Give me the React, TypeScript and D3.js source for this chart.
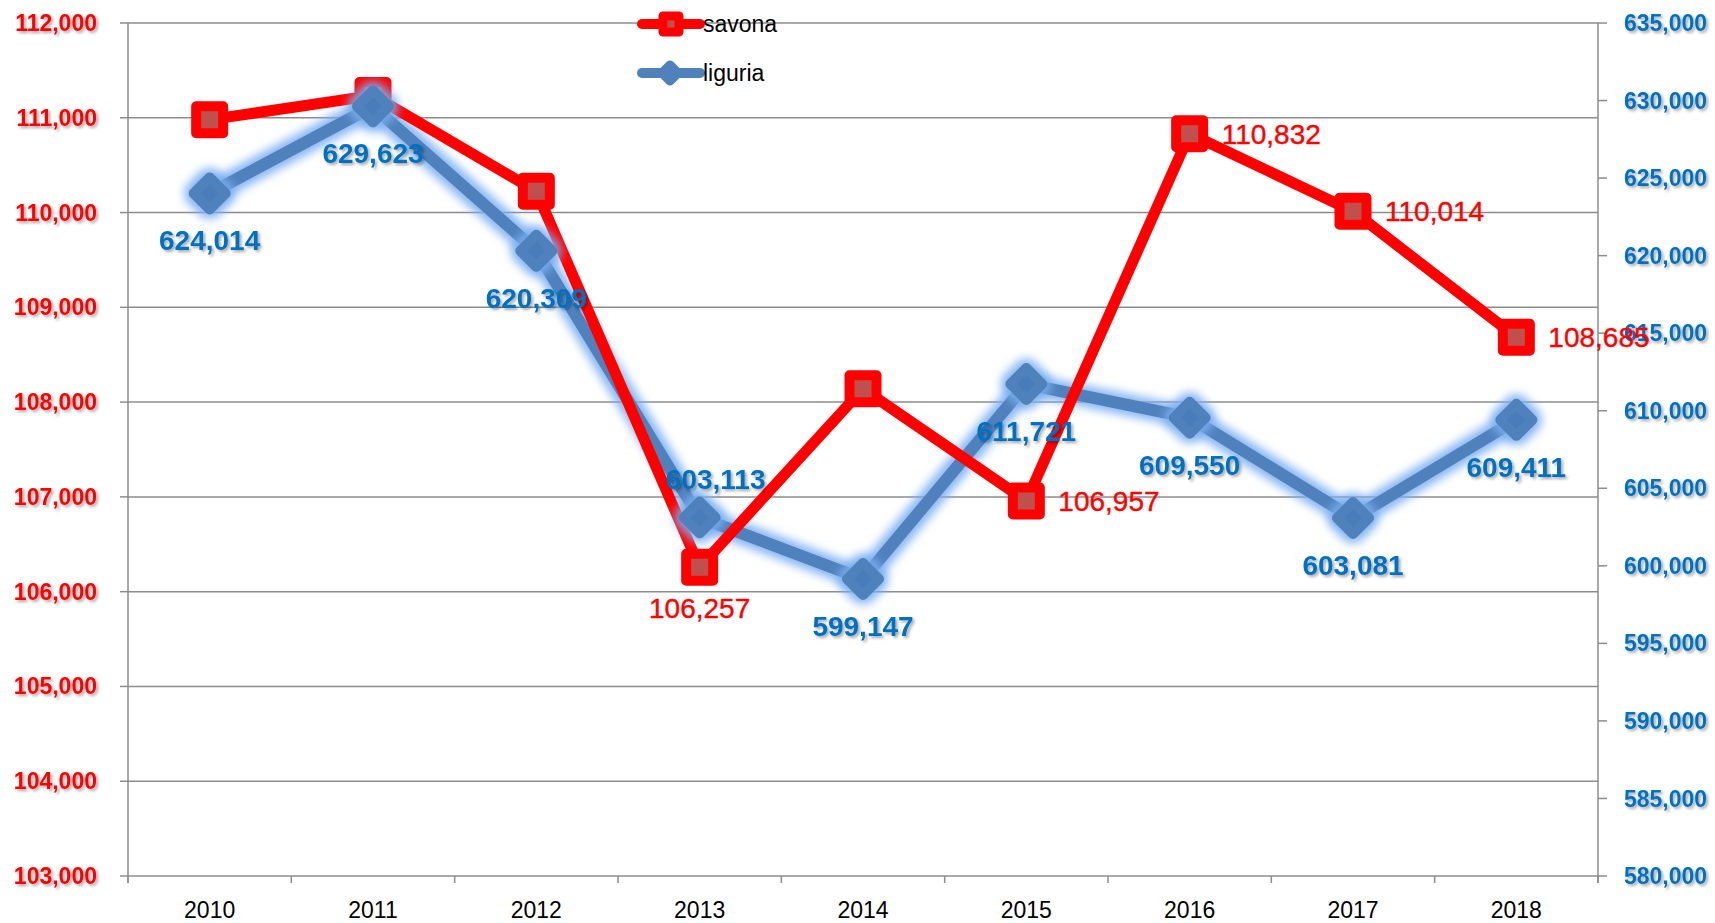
import React from 'react';
import * as d3 from 'd3';

const years = ['2010', '2011', '2012', '2013', '2014', '2015', '2016', '2017', '2018'];
const savona = [110980, 111235, 110225, 106257, 108140, 106957, 110832, 110014, 108685];
const liguria = [624014, 629623, 620309, 603113, 599147, 611721, 609550, 603081, 609411];
const leftTicks = [103000, 104000, 105000, 106000, 107000, 108000, 109000, 110000, 111000, 112000];
const rightTicks = [580000, 585000, 590000, 595000, 600000, 605000, 610000, 615000, 620000, 625000, 630000, 635000];
// label placement per point (style, not data)
const savonaLabelPos = ['none', 'none', 'none', 'below', 'none', 'right', 'right', 'right', 'right'];
const liguriaLabelPos = ['below', 'below', 'below', 'above', 'below', 'below', 'below', 'below', 'below'];

const W = 1715, H = 923;
const L = 128, R = 1598, T = 23, B = 876;
const FONT = '"Liberation Sans", Arial, sans-serif';
const RED = '#FF0000';
const BLUE = '#4F81BD';
const BLUE_TXT = '#0070C0';
const GRID = '#8c8c8c';

const fmt = d3.format(',');

export default function App() {
  const x = d3.scaleBand<string>().domain(years).range([L, R]).padding(0);
  const cx = (y: string) => (x(y) as number) + x.bandwidth() / 2;
  const yL = d3.scaleLinear().domain([103000, 112000]).range([B, T]);
  const yR = d3.scaleLinear().domain([580000, 635000]).range([B, T]);

  const redLine = d3.line<number>().x((_, i) => cx(years[i])).y((d) => yL(d))(savona) as string;
  const blueLine = d3.line<number>().x((_, i) => cx(years[i])).y((d) => yR(d))(liguria) as string;

  const diamond = (px: number, py: number, d: number) =>
    `M${px},${py - d}L${px + d},${py}L${px},${py + d}L${px - d},${py}Z`;

  const boundaries = [...years.map((y) => x(y) as number), R];

  return (
    <svg width={W} height={H} style={{ position: 'absolute', left: 0, top: 0, background: '#fff' }}>
      <defs>
        <filter id="tshadow" x="-20%" y="-40%" width="140%" height="180%">
          <feDropShadow dx="2" dy="2" stdDeviation="1.5" floodColor="#000" floodOpacity="0.35" />
        </filter>
        <filter id="glow" x="-10%" y="-15%" width="120%" height="130%">
          <feMorphology in="SourceAlpha" operator="dilate" radius="4" result="dil" />
          <feGaussianBlur in="dil" stdDeviation="5" result="blur" />
          <feFlood floodColor="#79AEF0" floodOpacity="0.9" />
          <feComposite in2="blur" operator="in" result="glowc" />
          <feMerge>
            <feMergeNode in="glowc" />
            <feMergeNode in="SourceGraphic" />
          </feMerge>
        </filter>
      </defs>

      {/* gridlines */}
      {leftTicks.map((t) => (
        <line key={'g' + t} x1={L} x2={R} y1={yL(t)} y2={yL(t)} stroke={GRID} strokeWidth={1.5} />
      ))}

      {/* left axis */}
      <line x1={L} x2={L} y1={T} y2={B + 7} stroke={GRID} strokeWidth={1.5} />
      {leftTicks.map((t) => (
        <g key={'l' + t}>
          <line x1={L - 8} x2={L} y1={yL(t)} y2={yL(t)} stroke={GRID} strokeWidth={1.5} />
          <text x={97} y={yL(t)} dy="0.35em" textAnchor="end" fontFamily={FONT} fontWeight="bold"
            fontSize={23} fill={RED} filter="url(#tshadow)">{fmt(t)}</text>
        </g>
      ))}

      {/* right axis */}
      <line x1={R} x2={R} y1={T} y2={B + 7} stroke={GRID} strokeWidth={1.5} />
      {rightTicks.map((t) => (
        <g key={'r' + t}>
          <line x1={R} x2={R + 9} y1={yR(t)} y2={yR(t)} stroke={GRID} strokeWidth={1.5} />
          <text x={1624} y={yR(t)} dy="0.35em" textAnchor="start" fontFamily={FONT} fontWeight="bold"
            fontSize={23} fill={BLUE_TXT} filter="url(#tshadow)">{fmt(t)}</text>
        </g>
      ))}

      {/* x axis */}
      {boundaries.map((b, i) => (
        <line key={'xt' + i} x1={b} x2={b} y1={B} y2={B + 7} stroke={GRID} strokeWidth={1.5} />
      ))}
      {years.map((y) => (
        <text key={'xl' + y} x={cx(y)} y={910} dy="0.35em" textAnchor="middle" fontFamily={FONT}
          fontSize={23} fill="#000">{y}</text>
      ))}

      {/* blue line with glow */}
      <g filter="url(#glow)">
        <path d={blueLine} fill="none" stroke={BLUE} strokeWidth={12} strokeLinejoin="round" strokeLinecap="round" />
      </g>

      {/* red line and markers */}
      <path d={redLine} fill="none" stroke={RED} strokeWidth={11} strokeLinejoin="round" strokeLinecap="round" />
      {savona.map((v, i) => (
        <rect key={'rm' + i} x={cx(years[i]) - 13.5} y={yL(v) - 13.5} width={27} height={27}
          fill="#C0504D" stroke={RED} strokeWidth={10} strokeLinejoin="round" />
      ))}

      {/* blue markers */}
      <g filter="url(#glow)">
        {liguria.map((v, i) => (
          <path key={'bm' + i} d={diamond(cx(years[i]), yR(v), 16)} fill="#4A7DBA" stroke={BLUE}
            strokeWidth={10} strokeLinejoin="round" />
        ))}
      </g>

      {/* red labels */}
      {savona.map((v, i) => {
        const pos = savonaLabelPos[i];
        if (pos === 'none') return null;
        const px = cx(years[i]);
        const py = yL(v);
        return pos === 'below' ? (
          <text key={'rl' + i} x={px} y={py + 41} dy="0.35em" textAnchor="middle" fontFamily={FONT}
            fontSize={28} fill={RED} stroke={RED} strokeWidth={0.4}>{fmt(v)}</text>
        ) : (
          <text key={'rl' + i} x={px + 32} y={py} dy="0.35em" textAnchor="start" fontFamily={FONT}
            fontSize={28} fill={RED} stroke={RED} strokeWidth={0.4}>{fmt(v)}</text>
        );
      })}

      {/* blue labels */}
      {liguria.map((v, i) => {
        const px = cx(years[i]);
        const py = yR(v);
        const above = liguriaLabelPos[i] === 'above';
        return (
          <text key={'bl' + i} x={above ? px + 16 : px} y={above ? py - 38 : py + 47} dy="0.35em"
            textAnchor="middle" fontFamily={FONT} fontWeight="bold" fontSize={28} fill={BLUE_TXT}
            filter="url(#tshadow)">{fmt(v)}</text>
        );
      })}

      {/* legend */}
      <g>
        <line x1={642} x2={700} y1={24} y2={24} stroke={RED} strokeWidth={10} strokeLinecap="round" />
        <rect x={671 - 8} y={24 - 8} width={16} height={16} fill="#C0504D" stroke={RED} strokeWidth={9}
          strokeLinejoin="round" />
        <text x={703} y={24} dy="0.35em" fontFamily={FONT} fontSize={23} fill="#000">savona</text>
        <line x1={642} x2={700} y1={73} y2={73} stroke={BLUE} strokeWidth={10} strokeLinecap="round" />
        <path d={diamond(670, 73, 8)} fill={BLUE} stroke={BLUE} strokeWidth={9} strokeLinejoin="round" />
        <text x={703} y={73} dy="0.35em" fontFamily={FONT} fontSize={23} fill="#000">liguria</text>
      </g>
    </svg>
  );
}
